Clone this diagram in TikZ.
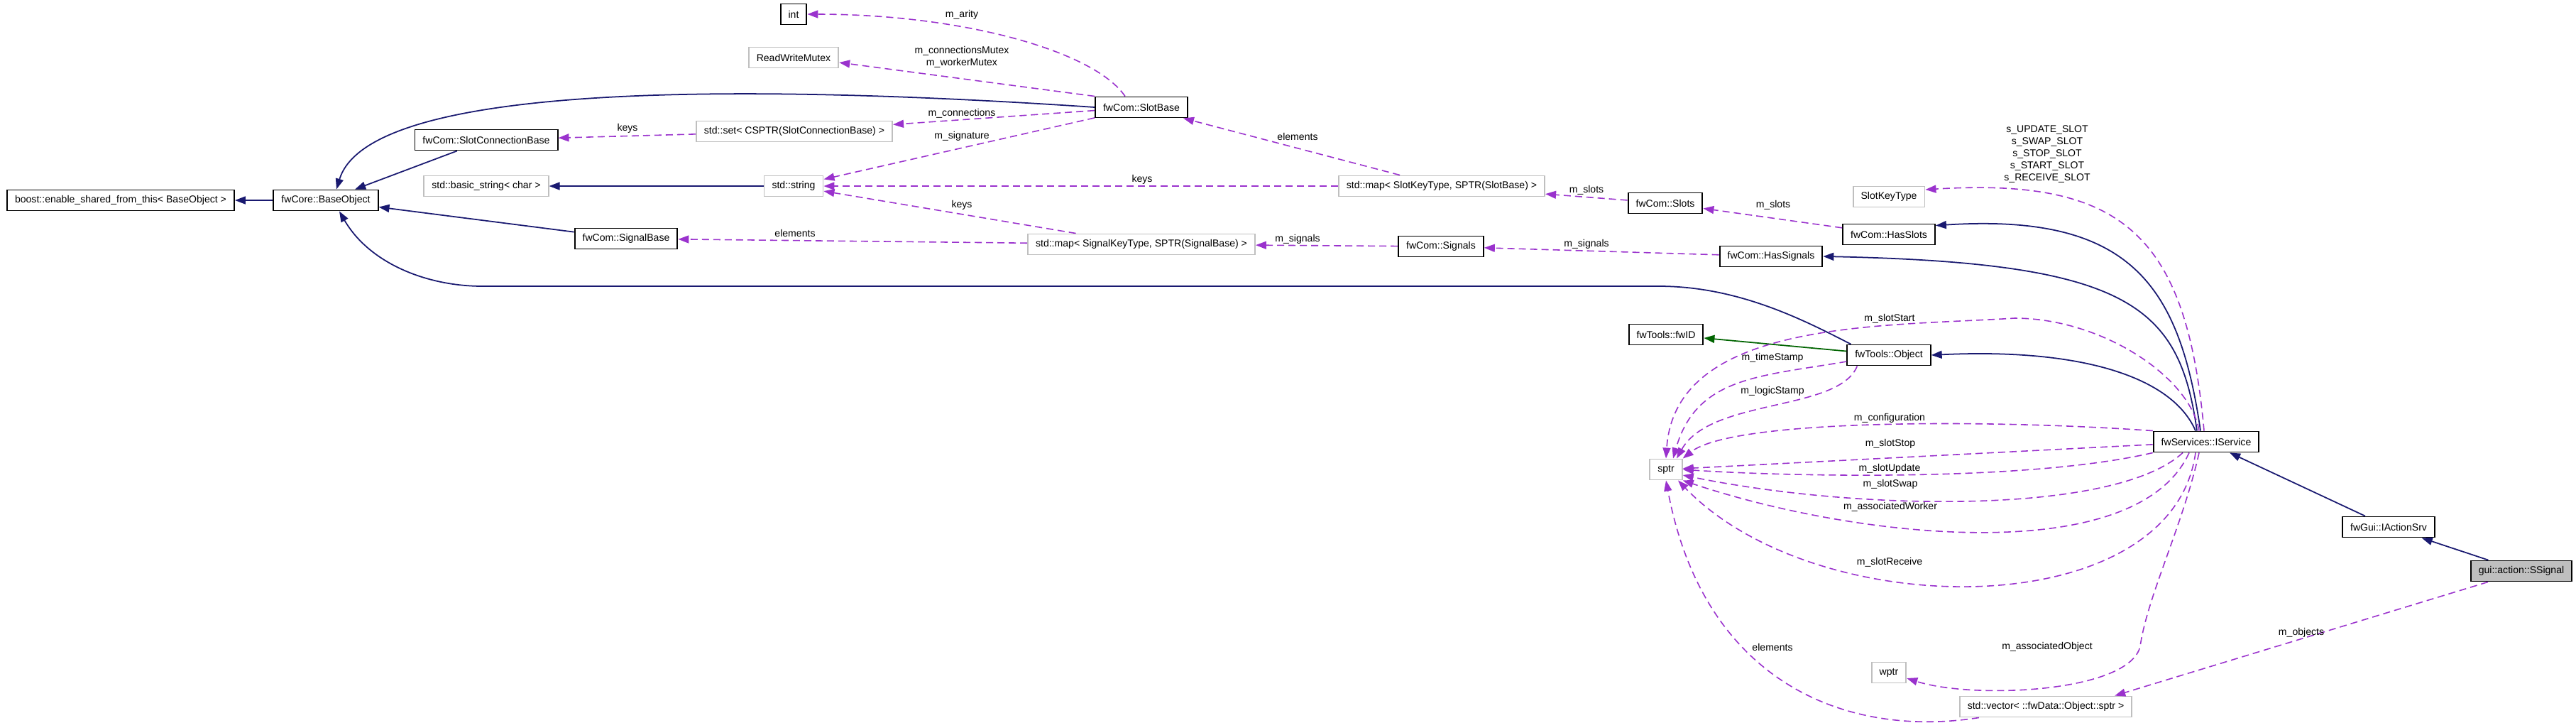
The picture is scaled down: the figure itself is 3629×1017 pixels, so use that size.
\documentclass[tikz,border=0pt]{standalone}
\usepackage{fontspec}
\setmainfont{Liberation Sans}
\usetikzlibrary{arrows.meta}
\definecolor{dxNavy}  {HTML}{191970}
\definecolor{dxPurple}{HTML}{9A32CD}
\definecolor{dxGreen} {HTML}{006400}
\definecolor{dxGray}  {HTML}{BFBFBF}

\begin{document}
\begin{tikzpicture}[x=0.01cm,y=-0.01cm,font=\fontsize{4}{4.84}\selectfont,
          cls/.style={draw=black,line width=0.55pt,minimum height=0.29cm,inner xsep=0.11cm,inner ysep=0},
          ext/.style={cls,draw=dxGray},
          cur/.style={cls,fill=dxGray},
          lbl/.style={inner sep=0,align=center},
          inh/.style={-{Triangle[length=0.15cm,width=0.11cm]},dxNavy,line width=0.5pt},
          inhg/.style={inh,dxGreen},
          usage/.style={-{Triangle[length=0.15cm,width=0.11cm]},dxPurple,line width=0.45pt,dash pattern=on 0.1cm off 0.06cm}]
        \useasboundingbox (0,0) rectangle (3629,1017);

        % classes
        \node[cls] (boost) at (170,282) {boost::enable\_shared\_from\_this< BaseObject >};
        \node[cls] (base) at (459,282) {fwCore::BaseObject};
        \node[cls] (slotconn) at (685,197) {fwCom::SlotConnectionBase};
        \node[ext] (bstring) at (685,262) {std::basic\_string< char >};
        \node[cls] (sigbase) at (882,336) {fwCom::SignalBase};
        \node[cls] (int) at (1118,20) {int};
        \node[ext] (rwmutex) at (1118,81) {ReadWriteMutex};
        \node[ext] (set) at (1119,185) {std::set< CSPTR(SlotConnectionBase) >};
        \node[ext] (string) at (1118,262) {std::string};
        \node[cls] (slotbase) at (1608,151) {fwCom::SlotBase};
        \node[ext] (sigmap) at (1608,344) {std::map< SignalKeyType, SPTR(SignalBase) >};
        \node[ext] (slotmap) at (2031,262) {std::map< SlotKeyType, SPTR(SlotBase) >};
        \node[cls] (signals) at (2030,347) {fwCom::Signals};
        \node[cls] (slots) at (2346,286) {fwCom::Slots};
        \node[cls] (hassignals) at (2495,361) {fwCom::HasSignals};
        \node[ext] (keytype) at (2661,277) {SlotKeyType};
        \node[cls] (hasslots) at (2661,330) {fwCom::HasSlots};
        \node[cls] (fwid) at (2347,471) {fwTools::fwID};
        \node[cls] (object) at (2661,500) {fwTools::Object};
        \node[ext] (sptr) at (2347,661) {sptr};
        \node[ext] (wptr) at (2661,947) {wptr};
        \node[ext] (vector) at (2882,995) {std::vector< ::fwData::Object::sptr >};
        \node[cls] (iservice) at (3108,622) {fwServices::IService};
        \node[cls] (actionsrv) at (3365,742) {fwGui::IActionSrv};
        \node[cur] (ssignal) at (3552,804) {gui::action::SSignal};

        % inheritance
        \draw[inh] (base) -- (boost);
        \draw[inh] (slotconn) -- (base);
        \draw[inh] (sigbase) -- (base);
        \draw[inh] (slotbase.west) .. controls (1050,118) and (520,115) .. ([xshift=0.15cm]base.north);
        \draw[inh] ([xshift=0.06cm]object.north west) .. controls (2540,450) and (2450,404) .. (2340,403)
          -- (680,403) .. controls (600,403) and (520,370) .. ([xshift=0.19cm]base.south);
        \draw[inh] (string) -- (bstring);
        \draw[inh] ([xshift=-0.15cm]iservice.north) .. controls (3060,530) and (2930,490) .. (object.east);
        \draw[inh] ([xshift=-0.13cm]iservice.north) .. controls (3070,430) and (3000,370) .. (hassignals.east);
        \draw[inh] ([xshift=-0.08cm]iservice.north) .. controls (3070,400) and (3000,300) .. ([yshift=-0.03cm]hasslots.north east);
        \draw[inh] (actionsrv) -- (iservice);
        \draw[inh] (ssignal) -- (actionsrv);
        \draw[inhg] (object) -- (fwid);

        % members
        \draw[usage] ([xshift=-0.23cm]slotbase.north) .. controls (1540,70) and (1350,20) .. (int.east);
        \draw[usage] (slotbase.north west) -- ([yshift=-0.07cm]rwmutex.east);
        \draw[usage] (slotbase) -- (set);
        \draw[usage] (slotbase) -- (string);
        \draw[usage] (set) -- (slotconn);
        \draw[usage] (slotmap) -- (string);
        \draw[usage] (slotmap) -- (slotbase);
        \draw[usage] (sigmap) -- (string);
        \draw[usage] (sigmap) -- (sigbase);
        \draw[usage] (slots) -- (slotmap);
        \draw[usage] (signals) -- (sigmap);
        \draw[usage] (hasslots) -- (slots);
        \draw[usage] (hassignals) -- (signals);
        \draw[usage] ([xshift=-0.03cm]iservice.north) .. controls (3080,330) and (2990,250) .. ([yshift=0.1cm]keytype.east);
        \draw[usage] ([xshift=-0.1cm]iservice.north) .. controls (3085,530) and (2960,448) .. (2838,448)
          .. controls (2650,460) and (2360,450) .. (sptr.north);
        \draw[usage] ([yshift=-0.09cm]object.west) .. controls (2480,530) and (2390,530) .. ([xshift=0.1cm]sptr.north);
        \draw[usage] ([xshift=0.15cm]object.south west) .. controls (2590,580) and (2410,560) .. ([xshift=0.15cm]sptr.north);
        \draw[usage] (iservice.north west) .. controls (2800,590) and (2440,590) .. (sptr.north east);
        \draw[usage] (iservice) -- (sptr);
        \draw[usage] (iservice.south west) .. controls (2850,680) and (2500,670) .. (sptr.east);
        \draw[usage] ([xshift=-0.33cm]iservice.south) .. controls (2980,725) and (2620,720) .. ([yshift=-0.08cm]sptr.east);
        \draw[usage] ([xshift=-0.24cm]iservice.south) .. controls (3010,800) and (2620,760) .. (sptr.south east);
        \draw[usage] ([xshift=-0.15cm]iservice.south) .. controls (3060,880) and (2560,880) .. ([xshift=0.17cm]sptr.south);
        \draw[usage] ([xshift=-0.1cm]iservice.south) .. controls (3075,740) and (3025,840) .. (3015,910)
          .. controls (3000,975) and (2780,985) .. ([yshift=-0.08cm]wptr.east);
        \draw[usage] ([xshift=0.28cm]vector.south west) .. controls (2600,1040) and (2400,960) .. (sptr.south);
        \draw[usage] ([xshift=0.25cm]ssignal.south west) -- ([xshift=-0.25cm]vector.north east);

        % member names
        \node[lbl] (l1) at (1355,21) {m\_arity};
        \node[lbl] (l2) at (1355,80) {m\_connectionsMutex\\m\_workerMutex};
        \node[lbl] (l3) at (1355,160) {m\_connections};
        \node[lbl] (l4) at (1355,192) {m\_signature};
        \node[lbl] (l5) at (884,181) {keys};
        \node[lbl] (l6) at (1609,253) {keys};
        \node[lbl] (l7) at (1828,192) {elements};
        \node[lbl] (l8) at (1355,289) {keys};
        \node[lbl] (l9) at (1120,328) {elements};
        \node[lbl] (l10) at (2235,268) {m\_slots};
        \node[lbl] (l11) at (1828,337) {m\_signals};
        \node[lbl] (l12) at (2498,289) {m\_slots};
        \node[lbl] (l13) at (2235,344) {m\_signals};
        \node[lbl] (l14) at (2884,217) {s\_UPDATE\_SLOT\\s\_SWAP\_SLOT\\s\_STOP\_SLOT\\s\_START\_SLOT\\s\_RECEIVE\_SLOT};
        \node[lbl] (l15) at (2662,449) {m\_slotStart};
        \node[lbl] (l16) at (2497,504) {m\_timeStamp};
        \node[lbl] (l17) at (2497,551) {m\_logicStamp};
        \node[lbl] (l18) at (2662,589) {m\_configuration};
        \node[lbl] (l19) at (2663,625) {m\_slotStop};
        \node[lbl] (l20) at (2662,660) {m\_slotUpdate};
        \node[lbl] (l21) at (2663,682) {m\_slotSwap};
        \node[lbl] (l22) at (2663,714) {m\_associatedWorker};
        \node[lbl] (l23) at (2662,792) {m\_slotReceive};
        \node[lbl] (l24) at (2497,911) {elements};
        \node[lbl] (l25) at (2884,911) {m\_associatedObject};
        \node[lbl] (l26) at (3242,891) {m\_objects};
      \end{tikzpicture}
\end{document}
